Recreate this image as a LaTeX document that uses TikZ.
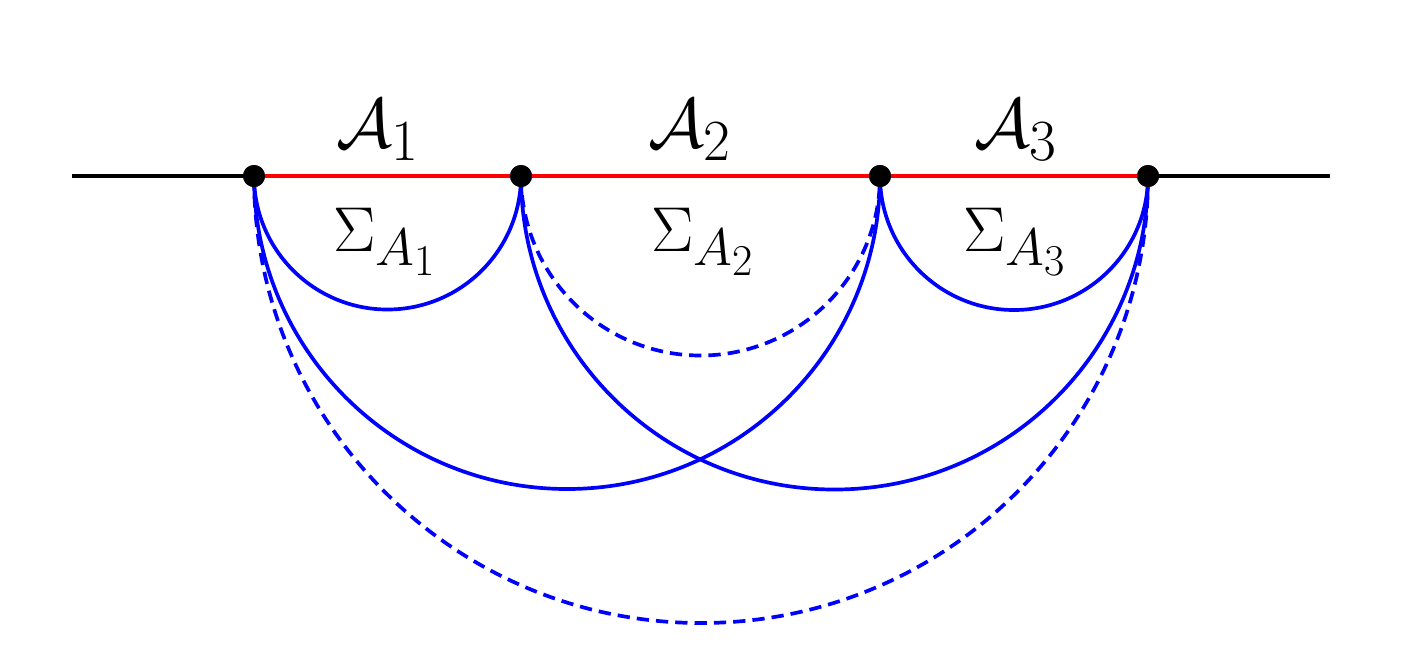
\documentclass[tikz,border=0pt]{standalone}
\usepackage{amsmath}
\begin{document}
\begin{tikzpicture}[x=0.02cm,y=-0.02cm,
  dot/.style={circle,fill=black,inner sep=0pt,minimum size=0.44cm},
  arcline/.style={blue,line width=2.1pt},
  seg/.style={line width=2.5pt},
  lab/.style={font=\Huge,scale=1.6},
  slab/.style={font=\Huge,scale=1.45}]
\useasboundingbox (0,0) rectangle (1408,657);
\coordinate (L) at (72,176);
\coordinate (R) at (1330,176);
\node[dot] (p1) at (254,176) {};
\node[dot] (p2) at (521,176) {};
\node[dot] (p3) at (880,176) {};
\node[dot] (p4) at (1148,176) {};
\draw[seg,black] (L) -- (p1.center);
\draw[seg,black] (p4.center) -- (R);
\draw[seg,red] (p1.center) -- (p2.center) -- (p3.center) -- (p4.center);
\draw[arcline] (p1.center) arc[start angle=180,end angle=360,radius=133.5*0.02cm];
\draw[arcline,dashed,dash pattern=on 7pt off 4pt] (p2.center) arc[start angle=180,end angle=360,radius=179.5*0.02cm];
\draw[arcline] (p3.center) arc[start angle=180,end angle=360,radius=134*0.02cm];
\draw[arcline] (p1.center) arc[start angle=180,end angle=360,radius=313*0.02cm];
\draw[arcline] (p2.center) arc[start angle=180,end angle=360,radius=313.5*0.02cm];
\draw[arcline,dashed,dash pattern=on 7pt off 4pt] (p1.center) arc[start angle=180,end angle=360,radius=447*0.02cm];
\node[dot] at (p1) {};
\node[dot] at (p2) {};
\node[dot] at (p3) {};
\node[dot] at (p4) {};
\node[lab] (a1) at (378,130) {$\mathcal{A}_1$};
\node[lab] (a2) at (690,130) {$\mathcal{A}_2$};
\node[lab] (a3) at (1016,130) {$\mathcal{A}_3$};
\node[slab] (s1) at (385,242) {$\Sigma_{A_1}$};
\node[slab] (s2) at (703,242) {$\Sigma_{A_2}$};
\node[slab] (s3) at (1015,242) {$\Sigma_{A_3}$};
\end{tikzpicture}
\end{document}
